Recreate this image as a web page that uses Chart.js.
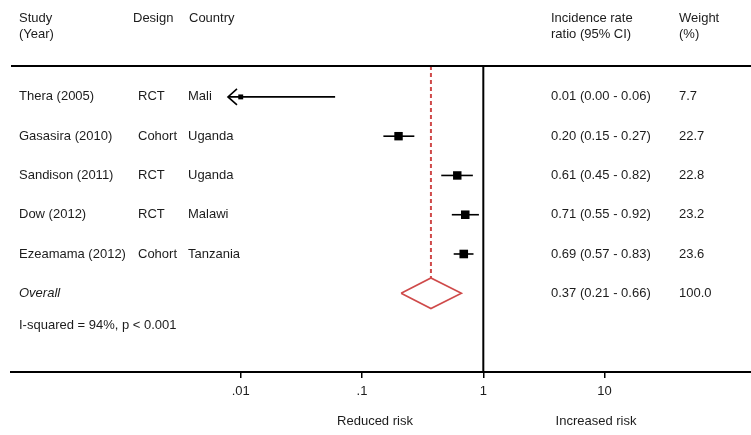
<!DOCTYPE html>
<html>
<head>
<meta charset="utf-8">
<script src="https://cdn.jsdelivr.net/npm/chart.js@4/dist/chart.umd.min.js"></script>
<style>
  html, body { margin: 0; padding: 0; background: #ffffff; }
  #wrap { width: 751px; height: 435px; }
</style>
</head>
<body>
<div id="wrap"><canvas id="c" width="751" height="435"></canvas></div>
<script>
// ---- data ----
const studies   = ['Thera (2005)', 'Gasasira (2010)', 'Sandison (2011)', 'Dow (2012)', 'Ezeamama (2012)'];
const designs   = ['RCT', 'Cohort', 'RCT', 'RCT', 'Cohort'];
const countries = ['Mali', 'Uganda', 'Uganda', 'Malawi', 'Tanzania'];
const irr       = [0.01, 0.20, 0.61, 0.71, 0.69];
const ciLow     = [0.00, 0.15, 0.45, 0.55, 0.57];
const ciHigh    = [0.06, 0.27, 0.82, 0.92, 0.83];
const weights   = [7.7, 22.7, 22.8, 23.2, 23.6];
const overallLabel = 'Overall';
const overallIRR   = [0.37, 0.21, 0.66];   // estimate, lower, upper
const overallWeight = 100.0;
const heterogeneity = 'I-squared = 94%, p < 0.001';
const tickValues = [0.01, 0.1, 1, 10];
const tickLabels = ['.01', '.1', '1', '10'];
const headers = {
  study: ['Study', '(Year)'], design: ['Design'], country: ['Country'],
  irr: ['Incidence rate', 'ratio (95% CI)'], weight: ['Weight', '(%)']
};
const sideLabels = ['Reduced risk', 'Increased risk'];

// ---- styles / layout ----
const X_MIN = Math.pow(10, -3.894), X_MAX = Math.pow(10, 2.207);
const Y_MIN = -0.787, Y_MAX = 7.005;
const CLIP_LOW = 0.00785;          // lowest CI value drawn before an arrow is used
const DIAMOND_HALF = 0.39;         // half height of the diamond (row units)
const RED = '#cf4a4a';
const TXT = '#1c1c1c';
const FONT = '13px "Liberation Sans", Arial, Helvetica, sans-serif';
const FONT_IT = 'italic 13px "Liberation Sans", Arial, Helvetica, sans-serif';
const overallRow = studies.length;
const hetRow = 5.81;

const datasets = [];
// CI lines
studies.forEach((s, i) => {
  datasets.push({
    data: [{x: Math.max(ciLow[i], CLIP_LOW), y: i}, {x: ciHigh[i], y: i}],
    showLine: true, borderColor: '#000', borderWidth: 1.6, pointRadius: 0, order: 3
  });
});
// squares
datasets.push({
  data: irr.map((v, i) => ({x: v, y: i})),
  pointStyle: 'rect',
  pointRadius: weights.map(w => 6 * Math.sqrt(w / 23)),
  backgroundColor: '#000', borderColor: '#000', borderWidth: 0, showLine: false, order: 1
});
// null line at 1
datasets.push({
  data: [{x: 1, y: Y_MIN}, {x: 1, y: Y_MAX}],
  showLine: true, borderColor: '#000', borderWidth: 2, pointRadius: 0, order: 2
});
// overall dashed line
datasets.push({
  data: [{x: overallIRR[0], y: Y_MIN}, {x: overallIRR[0], y: overallRow - DIAMOND_HALF}],
  showLine: true, borderColor: RED, borderWidth: 2, borderDash: [4, 3], pointRadius: 0, order: 2
});
// diamond
datasets.push({
  data: [
    {x: overallIRR[1], y: overallRow},
    {x: overallIRR[0], y: overallRow - DIAMOND_HALF},
    {x: overallIRR[2], y: overallRow},
    {x: overallIRR[0], y: overallRow + DIAMOND_HALF},
    {x: overallIRR[1], y: overallRow}
  ],
  showLine: true, borderColor: RED, borderWidth: 1.6, pointRadius: 0, fill: false, order: 1
});

const fmt2 = v => v.toFixed(2);

const textPlugin = {
  id: 'forestText',
  afterDraw(chart) {
    const ctx = chart.ctx, ca = chart.chartArea;
    const xs = chart.scales.x, ys = chart.scales.y;
    ctx.save();
    // top rule
    ctx.strokeStyle = '#000'; ctx.lineWidth = 2;
    ctx.beginPath(); ctx.moveTo(ca.left, ca.top); ctx.lineTo(ca.right, ca.top); ctx.stroke();

    // arrows for clipped CIs
    ctx.lineWidth = 1.6;
    studies.forEach((s, i) => {
      if (ciLow[i] < CLIP_LOW) {
        const px = xs.getPixelForValue(CLIP_LOW), py = ys.getPixelForValue(i);
        ctx.beginPath();
        ctx.moveTo(px + 9, py - 8); ctx.lineTo(px, py); ctx.lineTo(px + 9, py + 8);
        ctx.stroke();
      }
    });

    ctx.fillStyle = TXT;
    ctx.textBaseline = 'middle';
    ctx.textAlign = 'left';
    ctx.font = FONT;
    // headers
    const hy = [18, 34];
    headers.study.forEach((t, k) => ctx.fillText(t, 19, hy[k]));
    headers.design.forEach((t, k) => ctx.fillText(t, 133, hy[k]));
    headers.country.forEach((t, k) => ctx.fillText(t, 189, hy[k]));
    headers.irr.forEach((t, k) => ctx.fillText(t, 551, hy[k]));
    headers.weight.forEach((t, k) => ctx.fillText(t, 679, hy[k]));

    // rows
    studies.forEach((s, i) => {
      const y = ys.getPixelForValue(i);
      ctx.fillText(s, 19, y);
      ctx.fillText(designs[i], 138, y);
      ctx.fillText(countries[i], 188, y);
      ctx.fillText(fmt2(irr[i]) + ' (' + fmt2(ciLow[i]) + ' - ' + fmt2(ciHigh[i]) + ')', 551, y);
      ctx.fillText(weights[i].toFixed(1), 679, y);
    });
    const oy = ys.getPixelForValue(overallRow);
    ctx.font = FONT_IT;
    ctx.fillText(overallLabel, 19, oy);
    ctx.font = FONT;
    ctx.fillText(fmt2(overallIRR[0]) + ' (' + fmt2(overallIRR[1]) + ' - ' + fmt2(overallIRR[2]) + ')', 551, oy);
    ctx.fillText(overallWeight.toFixed(1), 679, oy);
    ctx.fillText(heterogeneity, 19, ys.getPixelForValue(hetRow));

    // side labels
    ctx.textAlign = 'center';
    ctx.fillText(sideLabels[0], 375, 421);
    ctx.fillText(sideLabels[1], 596, 421);
    ctx.restore();
  }
};

new Chart(document.getElementById('c'), {
  type: 'scatter',
  data: { datasets },
  options: {
    responsive: false,
    animation: false,
    events: [],
    layout: { autoPadding: false, padding: { left: 11, right: 0, top: 66, bottom: 0 } },
    plugins: { legend: { display: false }, tooltip: { enabled: false } },
    elements: { line: { tension: 0 } },
    scales: {
      x: {
        type: 'logarithmic',
        position: 'bottom',
        min: X_MIN, max: X_MAX,
        bounds: 'data',
        afterBuildTicks: (scale) => { scale.ticks = tickValues.map(v => ({ value: v })); },
        afterFit: (scale) => { scale.height = 63; },
        border: { display: true, color: '#000', width: 2 },
        grid: { display: true, drawOnChartArea: false, drawTicks: true, tickLength: 6, color: '#000', lineWidth: 1.5 },
        ticks: {
          autoSkip: false, maxRotation: 0, padding: 6, color: TXT,
          font: { family: '"Liberation Sans", Arial, Helvetica, sans-serif', size: 13 },
          callback: (v) => { const i = tickValues.indexOf(v); return i >= 0 ? tickLabels[i] : ''; }
        }
      },
      y: {
        type: 'linear', display: false, reverse: true,
        min: Y_MIN, max: Y_MAX
      }
    }
  },
  plugins: [textPlugin]
});
</script>
</body>
</html>
